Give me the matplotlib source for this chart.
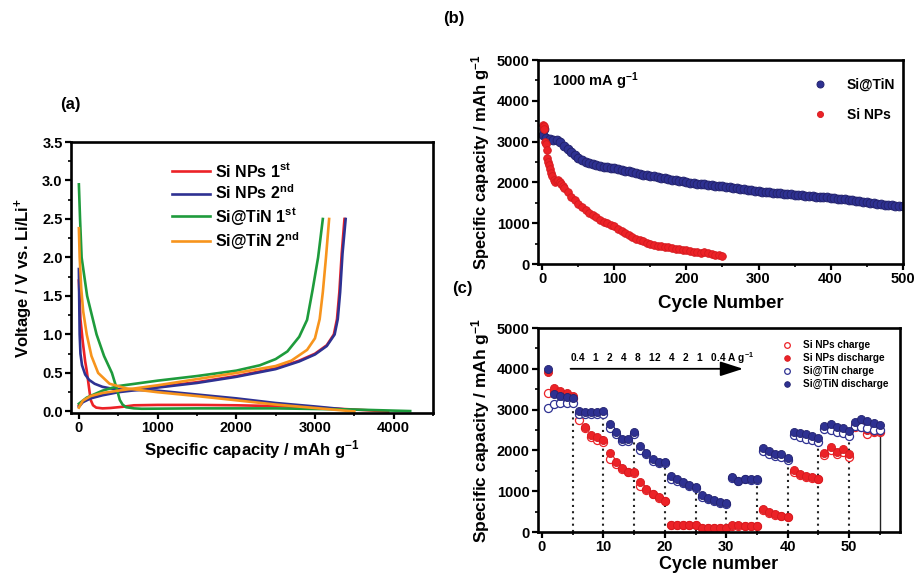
import matplotlib
matplotlib.use('Agg')
import matplotlib.pyplot as plt
from matplotlib.ticker import MultipleLocator

plt.rcParams['font.family'] = ['Liberation Sans', 'DejaVu Sans']
plt.rcParams['font.weight'] = 'bold'
plt.rcParams['axes.labelweight'] = 'bold'
plt.rcParams['mathtext.fontset'] = 'custom'
plt.rcParams['mathtext.rm'] = 'Liberation Sans:bold'
plt.rcParams['mathtext.bf'] = 'Liberation Sans:bold'
plt.rcParams['mathtext.it'] = 'Liberation Sans:bold'
plt.rcParams['mathtext.default'] = 'bf'

RED = '#EC2227'
BLUE = '#2E3192'
GREEN = '#1E9B3C'
ORANGE = '#F7941D'

# ---------------- Panel (a): voltage profiles ----------------
sinp1_dis_cap = [0, 20, 50, 80, 100, 130, 150, 180, 220, 300, 400, 550, 700, 1000, 1500, 2000, 2500, 3000, 3500, 3930]
sinp1_dis_v = [1.70, 1.20, 0.90, 0.65, 0.53, 0.30, 0.15, 0.08, 0.05, 0.04, 0.045, 0.06, 0.08, 0.085, 0.085, 0.08, 0.07, 0.05, 0.025, 0.0]
sinp1_chg_cap = [0, 50, 150, 300, 500, 1000, 1500, 2000, 2500, 2800, 3000, 3150, 3240, 3280, 3310, 3340, 3375]
sinp1_chg_v = [0.08, 0.13, 0.18, 0.22, 0.26, 0.32, 0.38, 0.46, 0.56, 0.66, 0.75, 0.86, 1.0, 1.2, 1.55, 2.05, 2.5]

sinp2_dis_cap = [0, 5, 10, 20, 40, 80, 130, 200, 300, 450, 700, 1000, 1500, 2000, 2500, 3000, 3450]
sinp2_dis_v = [1.85, 1.40, 1.00, 0.75, 0.60, 0.48, 0.41, 0.36, 0.32, 0.29, 0.28, 0.27, 0.22, 0.17, 0.11, 0.065, 0.02]
sinp2_chg_cap = [0, 50, 150, 300, 500, 1000, 1500, 2000, 2500, 2800, 3000, 3150, 3250, 3290, 3320, 3350, 3390]
sinp2_chg_v = [0.06, 0.12, 0.17, 0.21, 0.25, 0.31, 0.37, 0.45, 0.55, 0.65, 0.74, 0.85, 1.0, 1.2, 1.55, 2.05, 2.5]

sitin1_dis_cap = [0, 15, 35, 105, 225, 320, 420, 480, 520, 555, 600, 700, 800, 1500, 2500, 3500, 4210]
sitin1_dis_v = [2.95, 2.50, 2.00, 1.50, 1.00, 0.72, 0.50, 0.30, 0.15, 0.09, 0.055, 0.04, 0.035, 0.04, 0.04, 0.025, 0.005]
sitin1_chg_cap = [0, 100, 300, 500, 1000, 1500, 2000, 2300, 2500, 2650, 2800, 2900, 2970, 3040, 3100]
sitin1_chg_v = [0.10, 0.18, 0.27, 0.33, 0.40, 0.46, 0.53, 0.60, 0.68, 0.78, 0.97, 1.19, 1.58, 2.0, 2.5]

sitin2_dis_cap = [0, 10, 30, 55, 100, 160, 245, 390, 600, 1000, 1500, 2000, 2500, 3000, 3500]
sitin2_dis_v = [2.38, 2.00, 1.60, 1.30, 1.00, 0.72, 0.50, 0.36, 0.30, 0.25, 0.20, 0.145, 0.09, 0.045, 0.0]
sitin2_chg_cap = [0, 50, 150, 300, 500, 1000, 1500, 2000, 2500, 2700, 2900, 3000, 3060, 3100, 3140, 3180]
sitin2_chg_v = [0.05, 0.14, 0.20, 0.24, 0.27, 0.34, 0.42, 0.50, 0.59, 0.66, 0.80, 0.95, 1.2, 1.55, 2.0, 2.5]

# ---------------- Panel (b): cycling at 1000 mA/g ----------------
tin_cyc_b = [1, 2] + list(range(5, 501, 5))
tin_cap_b = [3150, 3320,
             3100, 3060, 3050, 3040, 2980, 2900, 2820, 2740, 2670, 2590,
             2540, 2500, 2470, 2440, 2420, 2400, 2385, 2370, 2360, 2350,
             2330, 2310, 2290, 2270, 2250, 2230, 2210, 2190, 2175, 2160,
             2145, 2130, 2115, 2100, 2085, 2070, 2055, 2040, 2025, 2010,
             1995, 1985, 1972, 1960, 1950, 1940, 1930, 1920, 1910, 1900,
             1888, 1876, 1865, 1852, 1840, 1828, 1816, 1805, 1795, 1785,
             1775, 1765, 1755, 1746, 1738, 1730, 1722, 1714, 1706, 1698,
             1690, 1682, 1675, 1668, 1660, 1652, 1645, 1638, 1630, 1622,
             1612, 1602, 1592, 1582, 1572, 1562, 1552, 1542, 1530, 1518,
             1505, 1492, 1480, 1468, 1456, 1446, 1438, 1430, 1424, 1418]
sinp_cyc_b = [1, 2, 3, 4, 5, 6, 7, 8, 9, 10, 12, 14, 16, 18, 20, 22, 24, 26, 28, 30] + list(range(35, 251, 5))
sinp_cap_b = [3400, 3380, 3320, 3000, 2930, 2800, 2600, 2500, 2420, 2330,
              2230, 2150, 2060, 2020, 2040, 2060, 2000, 1960, 1910, 1860,
              1760, 1650, 1560, 1470, 1390, 1320, 1260, 1200, 1140, 1090,
              1040, 1000, 960, 930, 870, 800, 750, 700, 660, 620,
              590, 560, 520, 490, 470, 450, 430, 420, 410, 390,
              370, 360, 350, 345, 320, 300, 290, 280, 285, 270,
              250, 220, 210, 200]

# ---------------- Panel (c): rate capability ----------------
cycles_c = list(range(1, 56))
sinp_charge = [3400, 3450, 3400, 3350, 3280,
               2740, 2540, 2320, 2260, 2210,
               1780, 1670, 1550, 1470, 1450,
               1120, 1030, 920, 840, 760,
               170, 165, 160, 160, 160,
               95, 90, 90, 90, 95,
               150, 150, 145, 145, 140,
               540, 470, 420, 390, 360,
               1480, 1400, 1350, 1320, 1290,
               1880, 2010, 1920, 1970, 1840,
               2570, 2570, 2400, 2440, 2440]
sinp_discharge = [3920, 3520, 3450, 3400, 3340,
                  2900, 2570, 2370, 2320, 2260,
                  1930, 1710, 1570, 1480, 1470,
                  1220, 1060, 940, 850, 770,
                  180, 175, 175, 170, 170,
                  100, 95, 95, 95, 100,
                  160, 160, 155, 150, 150,
                  560, 490, 430, 390, 370,
                  1520, 1430, 1380, 1350, 1310,
                  1940, 2090, 1970, 2030, 1900,
                  2620, 2640, 2490, 2480, 2470]
sitin_charge = [3030, 3130, 3150, 3150, 3170,
                2880, 2880, 2880, 2880, 2890,
                2540, 2400, 2230, 2230, 2390,
                2010, 1900, 1740, 1690, 1680,
                1310, 1250, 1190, 1120, 1080,
                850, 810, 750, 710, 680,
                1320, 1240, 1290, 1270, 1280,
                1990, 1920, 1860, 1840, 1760,
                2370, 2320, 2290, 2250, 2210,
                2530, 2490, 2440, 2420, 2360,
                2610, 2570, 2560, 2510, 2510]
sitin_discharge = [4000, 3380, 3330, 3310, 3280,
                   2960, 2950, 2950, 2950, 2960,
                   2640, 2450, 2270, 2270, 2440,
                   2100, 1940, 1780, 1720, 1720,
                   1380, 1295, 1230, 1150, 1105,
                   900, 845, 795, 740, 700,
                   1350, 1250, 1310, 1290, 1295,
                   2065, 1985, 1910, 1900, 1820,
                   2440, 2420, 2390, 2360, 2310,
                   2600, 2650, 2580, 2540, 2480,
                   2700, 2760, 2730, 2680, 2620]
rate_labels = ['0.4', '1', '2', '4', '8', '12', '4', '2', '1', '0.4']
step_ends = [5, 10, 15, 20, 25, 30, 35, 40, 45, 50]
final_cycle = 55

W, H = 917, 573
fig = plt.figure(figsize=(W / 100, H / 100), dpi=100)


def box(l, t, r, b):
    return [l / W, 1 - b / H, (r - l) / W, (b - t) / H]


def style(ax):
    for s in ax.spines.values():
        s.set_linewidth(1.9)
    ax.tick_params(which='major', direction='out', length=4, width=1.6, labelsize=10.5, pad=2)
    ax.tick_params(which='minor', direction='out', length=2.5, width=1.2)
    ax.tick_params(top=False, right=False, which='both')


# Panel a
axa = fig.add_axes(box(71, 142, 433, 413))
lw = 1.9
axa.plot(sinp1_dis_cap, sinp1_dis_v, color=RED, lw=lw, label='Si NPs 1$^{st}$')
axa.plot(sinp1_chg_cap, sinp1_chg_v, color=RED, lw=lw)
axa.plot(sinp2_dis_cap, sinp2_dis_v, color=BLUE, lw=lw, label='Si NPs 2$^{nd}$')
axa.plot(sinp2_chg_cap, sinp2_chg_v, color=BLUE, lw=lw)
axa.plot(sitin1_dis_cap, sitin1_dis_v, color=GREEN, lw=lw, label='Si@TiN 1$^{st}$')
axa.plot(sitin1_chg_cap, sitin1_chg_v, color=GREEN, lw=lw)
axa.plot(sitin2_dis_cap, sitin2_dis_v, color=ORANGE, lw=lw, label='Si@TiN 2$^{nd}$')
axa.plot(sitin2_chg_cap, sitin2_chg_v, color=ORANGE, lw=lw)
axa.set_xlim(-100, 4500)
axa.set_ylim(-0.02, 3.5)
axa.xaxis.set_major_locator(MultipleLocator(1000))
axa.xaxis.set_minor_locator(MultipleLocator(500))
axa.yaxis.set_major_locator(MultipleLocator(0.5))
axa.yaxis.set_minor_locator(MultipleLocator(0.25))
axa.yaxis.set_major_formatter(plt.FormatStrFormatter('%.1f'))
style(axa)
axa.set_xlabel('Specific capacity / mAh g$^{-1}$', fontsize=12, labelpad=2)
axa.set_ylabel('Voltage / V vs. Li/Li$^{+}$', fontsize=12, labelpad=5)
axa.legend(loc='upper left', bbox_to_anchor=(0.26, 0.95), frameon=False, fontsize=11.5,
           handlelength=2.4, handletextpad=0.3, labelspacing=0.22, borderaxespad=0)

# Panel b
axb = fig.add_axes(box(538, 60, 903, 264))
axb.plot(tin_cyc_b, tin_cap_b, 'o', color=BLUE, mec='#23236e', mew=0.7, ms=6.3, label='Si@TiN')
axb.plot(sinp_cyc_b, sinp_cap_b, 'o', color=RED, mec='#d41a1f', mew=0.6, ms=5.5, label='Si NPs')
axb.set_xlim(-6, 500.5)
axb.set_ylim(0, 5000)
axb.xaxis.set_major_locator(MultipleLocator(100))
axb.xaxis.set_minor_locator(MultipleLocator(50))
axb.yaxis.set_major_locator(MultipleLocator(1000))
axb.yaxis.set_minor_locator(MultipleLocator(500))
style(axb)
axb.set_xlabel('Cycle Number', fontsize=13.5, labelpad=6)
axb.set_ylabel('Specific capacity / mAh g$^{-1}$', fontsize=12, labelpad=3)
axb.text(13, 4470, '1000 mA g$^{-1}$', fontsize=10.5, va='center', ha='left')
axb.legend(loc='upper left', bbox_to_anchor=(0.72, 0.94), frameon=False, fontsize=10,
           handletextpad=0.9, labelspacing=1.15, borderaxespad=0, numpoints=1, markerscale=0.8)

# Panel c
axc = fig.add_axes(box(538, 328, 900, 532))
for c in step_ends:
    top = max(sinp_charge[c - 1], sinp_discharge[c - 1], sitin_charge[c - 1], sitin_discharge[c - 1])
    axc.plot([c, c], [0, top], color='#222222', lw=1.5, ls=(0, (1, 2)))
topf = max(sitin_discharge[final_cycle - 1], sitin_charge[final_cycle - 1])
axc.plot([final_cycle, final_cycle], [0, topf], color='#222222', lw=1.0)
ms = 5.8
axc.plot(cycles_c, sinp_charge, 'o', ms=ms, mfc='white', mec=RED, mew=0.9, label='Si NPs charge')
axc.plot(cycles_c, sinp_discharge, 'o', ms=ms, color=RED, mec='#d41a1f', mew=0.6, label='Si NPs discharge')
axc.plot(cycles_c, sitin_charge, 'o', ms=ms, mfc='white', mec=BLUE, mew=0.9, label='Si@TiN charge')
axc.plot(cycles_c, sitin_discharge, 'o', ms=ms, color=BLUE, mec='#23236e', mew=0.6, label='Si@TiN discharge')
axc.set_xlim(-0.65, 58.3)
axc.set_ylim(0, 5000)
axc.xaxis.set_major_locator(MultipleLocator(10))
axc.xaxis.set_minor_locator(MultipleLocator(5))
axc.yaxis.set_major_locator(MultipleLocator(1000))
axc.yaxis.set_minor_locator(MultipleLocator(500))
style(axc)
axc.set_xlabel('Cycle number', fontsize=13, labelpad=1)
axc.set_ylabel('Specific capacity / mAh g$^{-1}$', fontsize=12.5, labelpad=3)
axc.annotate('', xy=(33.2, 4000), xytext=(4.2, 4000),
             arrowprops=dict(arrowstyle='-|>,head_length=1.4,head_width=0.45', color='black', lw=1.3))
axc.text(4.6, 4270, '   '.join(rate_labels) + ' A g$^{-1}$', fontsize=7.3, ha='left', va='center')
axc.legend(loc='upper left', bbox_to_anchor=(0.648, 0.96), frameon=False, fontsize=7.2,
           handletextpad=0.6, labelspacing=0.3, borderaxespad=0, numpoints=1, markerscale=0.7)

fig.text(60 / W, 1 - 104 / H, '(a)', fontsize=12, ha='left', va='center')
fig.text(443 / W, 1 - 18 / H, '(b)', fontsize=12, ha='left', va='center')
fig.text(452 / W, 1 - 289 / H, '(c)', fontsize=12, ha='left', va='center')

fig.savefig('out.png', dpi=100)
